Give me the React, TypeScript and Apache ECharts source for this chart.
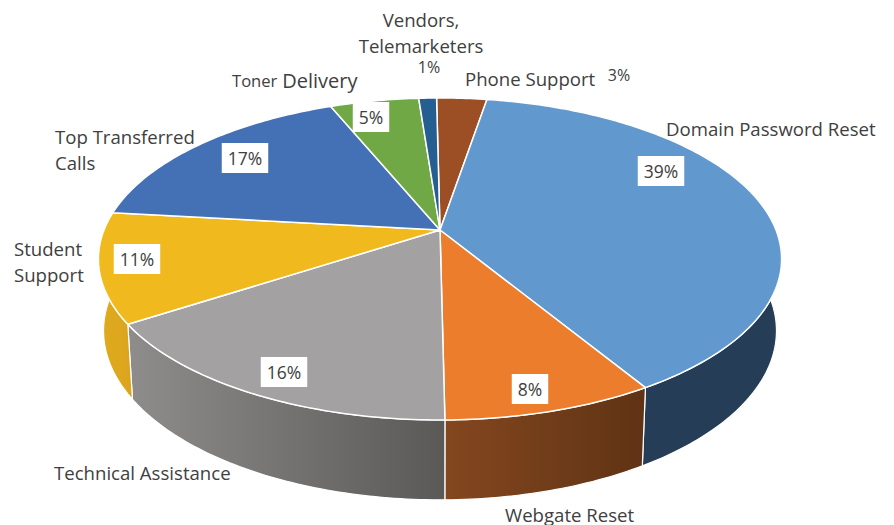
import React, { useEffect, useRef } from "react";
import * as echarts from "echarts";

const categories = ["Phone Support", "Domain Password Reset", "Webgate Reset", "Technical Assistance", "Student Support", "Top Transferred Calls", "Toner Delivery", "Vendors, Telemarketers"];
const shares = [3, 39, 8, 16, 11, 17, 5, 1];
const topColors = ["#9c4f24", "#6198cd", "#ec7d2d", "#a3a1a1", "#f0b91e", "#4470b5", "#70a845", "#255e91"];
const wallColors = [
  ["#6b3517", "#6b3517"], ["#253d56", "#253d56"], ["#84471f", "#5f3314"], ["#8f8d8c", "#5a5957"],
  ["#e0ab1f", "#dba41d"], ["#2f4d7d", "#2f4d7d"], ["#4e7530", "#4e7530"], ["#1a4165", "#1a4165"],
];
// text layout, [x, y] in pixels
const nameLayout: any[] = [
  { x: 465, y: 78, align: "left", text: "Phone Support", lh: 22 },
  { x: 666, y: 128, align: "left", text: "Domain Password Reset", lh: 22 },
  { x: 505, y: 514, align: "left", text: "Webgate Reset", lh: 20 },
  { x: 54, y: 472, align: "left", text: "Technical Assistance", lh: 22 },
  { x: 14, y: 261, align: "left", text: "Student\nSupport", lh: 26 },
  { x: 55, y: 149, align: "left", text: "Top Transferred\nCalls", lh: 26 },
  { x: 232, y: 80, align: "left", text: "{a|Toner} {b|Delivery}", lh: 22 },
  { x: 421, y: 32, align: "center", text: "Vendors,\nTelemarketers", lh: 26 },
];
const pctLayout: any[] = [
  { x: 619, y: 75, boxed: false }, { x: 661, y: 171, boxed: true }, { x: 530, y: 389, boxed: true }, { x: 284, y: 372, boxed: true },
  { x: 137, y: 259, boxed: true }, { x: 245, y: 158, boxed: true }, { x: 371, y: 117, boxed: true }, { x: 429, y: 67, boxed: false },
];

const CX = 440, CY = 230, A = 336, B = 155.8, K = 0.18;
const FONT = "'Open Sans', 'Noto Sans', sans-serif";

const top = (f: number): [number, number] => {
  const t0 = f * 2 * Math.PI;
  const t = t0 - 0.012 - 0.06 * Math.max(0, Math.sin(t0));
  const u = Math.sin(t), v = Math.cos(t), w = 1 + K * v;
  return [CX + (A * u) / w, CY - (B * v) / w];
};
const base = (p: [number, number]): [number, number] => [
  CX + (p[0] - CX) * 0.985,
  p[1] + 75 + (p[1] - 323) * 0.05,
];
const total = shares.reduce((a, b) => a + b, 0);
const starts = shares.map((_, i) => shares.slice(0, i).reduce((a, b) => a + b, 0) / total);
const arc = (i: number) => {
  const n = Math.max(4, Math.round(shares[i] * 4));
  const out: [number, number][] = [];
  for (let k = 0; k <= n; k++) out.push(top(starts[i] + (k / n) * (shares[i] / total)));
  return out;
};

export default function App() {
  const ref = useRef<HTMLDivElement>(null);
  useEffect(() => {
    document.body.style.margin = "0";
    const chart = echarts.init(ref.current!, undefined, { renderer: "svg" });
    chart.setOption({
      animation: false,
      backgroundColor: "#ffffff",
      series: [
        {
          type: "custom",
          coordinateSystem: "none",
          silent: true,
          z: 1,
          data: shares.map((value, i) => ({ name: categories[i], value: [i, value] })),
          renderItem: (params: any) => {
            const i = params.dataIndex;
            const a = arc(i);
            const pts = [...a, ...a.map(base).reverse()];
            return {
              type: "polygon",
              shape: { points: pts },
              style: {
                fill: new echarts.graphic.LinearGradient(0, 0, 1, 0, [
                  { offset: 0, color: wallColors[i][0] },
                  { offset: 1, color: wallColors[i][1] },
                ]),
                stroke: "#ffffff",
                lineWidth: 1.2,
              },
            };
          },
        },
        {
          type: "custom",
          coordinateSystem: "none",
          silent: true,
          z: 2,
          data: shares.map((value, i) => ({ name: categories[i], value: [i, value] })),
          renderItem: (params: any) => {
            const i = params.dataIndex;
            return {
              type: "polygon",
              shape: { points: [[CX, CY], ...arc(i)] },
              style: { fill: topColors[i], stroke: "#ffffff", lineWidth: 1.5, lineJoin: "round" },
            };
          },
        },
        {
          type: "custom",
          coordinateSystem: "none",
          silent: true,
          z: 3,
          data: shares.map((value, i) => ({ name: categories[i], value: [i, value] })),
          renderItem: (params: any) => {
            const i = params.dataIndex;
            const n = nameLayout[i], p = pctLayout[i];
            return {
              type: "group",
              children: [
                {
                  type: "text",
                  x: n.x,
                  y: n.y,
                  style: {
                    text: n.text,
                    fontFamily: FONT,
                    fontSize: 18.6,
                    lineHeight: n.lh,
                    fill: "#404040",
                    align: n.align,
                    verticalAlign: "middle",
                    rich: {
                      a: { fontFamily: FONT, fontSize: 16.6, fill: "#404040" },
                      b: { fontFamily: FONT, fontSize: 20, fill: "#404040" },
                    },
                  },
                },
                {
                  type: "text",
                  x: p.x,
                  y: p.y,
                  style: {
                    text: `${shares[i]}%`,
                    fontFamily: FONT,
                    fontSize: p.boxed ? 17.5 : 16,
                    fill: "#404040",
                    align: "center",
                    verticalAlign: "middle",
                    ...(p.boxed ? { backgroundColor: "#ffffff", padding: [6, 6] } : {}),
                  },
                },
              ],
            };
          },
        },
      ],
    });
    return () => chart.dispose();
  }, []);
  return <div ref={ref} style={{ width: 894, height: 525 }} />;
}
